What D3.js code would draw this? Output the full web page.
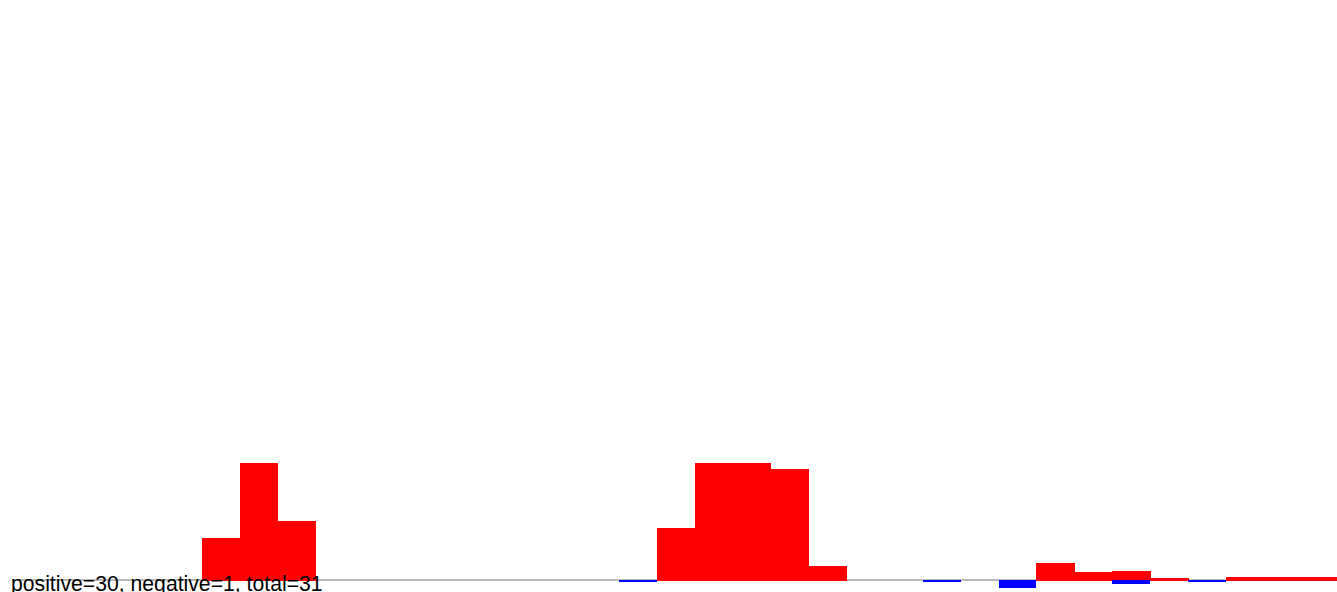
<!DOCTYPE html>
<html>
<head>
<meta charset="utf-8">
<script src="https://cdn.jsdelivr.net/npm/d3@7"></script>
<style>
	body { margin: 0; background: #fff; overflow: hidden; }
	svg { display: block; }
</style>
</head>
<body>
<div id="chart"></div>
<script>
// bins 0..34, counts
var bins = d3.range(0, 35);
var positive = [ 0, 0, 0, 0, 0, 42, 117, 59, 0, 0, 0, 0, 0, 0, 0, 0, 0, 52, 117, 117, 111, 14, 0, 0, 0, 0, 0, 17, 8, 9, 2, 0, 3, 3, 3 ];
var negative = [ 0, 0, 0, 0, 0, 0, 0, 0, 0, 0, 0, 0, 0, 0, 0, 0, 2, 0, 0, 0, 0, 0, 0, 0, 2, 0, 8, 0, 0, 4, 0, 2, 0, 0, 0 ];
var summary = 'positive=30, negative=1, total=31';

var width = 1337;
var height = 592;
var left = 12.35;
var step = 37.93;
var base = 580;

var svg = d3.select('#chart').append('svg').attr('width', width).attr('height', height);

var x = d3.scaleLinear().domain([ 0, bins.length ]).range([ left, left + bins.length * step ]);

var y = d3.scaleLinear().domain([ 0, 117 ]).range([ base, base - 117 ]);

// baseline
svg
	.append('line')
	.attr('x1', left)
	.attr('x2', width)
	.attr('y1', base)
	.attr('y2', base)
	.attr('stroke', '#777')
	.attr('stroke-width', 1);

// positive bars (up)
svg
	.append('g')
	.attr('shape-rendering', 'crispEdges')
	.selectAll('rect')
	.data(bins.filter((d) => positive[d] > 0))
	.enter()
	.append('rect')
	.attr('x', (d) => x(d))
	.attr('y', (d) => y(positive[d]))
	.attr('width', (d) => x(d + 1) - x(d) + 0.5)
	.attr('height', (d) => y(0) - y(positive[d]) + 1)
	.attr('fill', '#ff0000');

// negative bars (down)
svg
	.append('g')
	.attr('shape-rendering', 'crispEdges')
	.selectAll('rect')
	.data(bins.filter((d) => negative[d] > 0))
	.enter()
	.append('rect')
	.attr('x', (d) => x(d))
	.attr('y', y(0))
	.attr('width', (d) => x(d + 1) - x(d))
	.attr('height', (d) => y(0) - y(negative[d]))
	.attr('fill', '#0000ff');

svg
	.append('text')
	.attr('x', 11)
	.attr('y', 591)
	.attr('font-family', 'Liberation Sans, Arial, sans-serif')
	.attr('font-size', 21.2)
	.attr('fill', '#000')
	.text(summary);
</script>
</body>
</html>
